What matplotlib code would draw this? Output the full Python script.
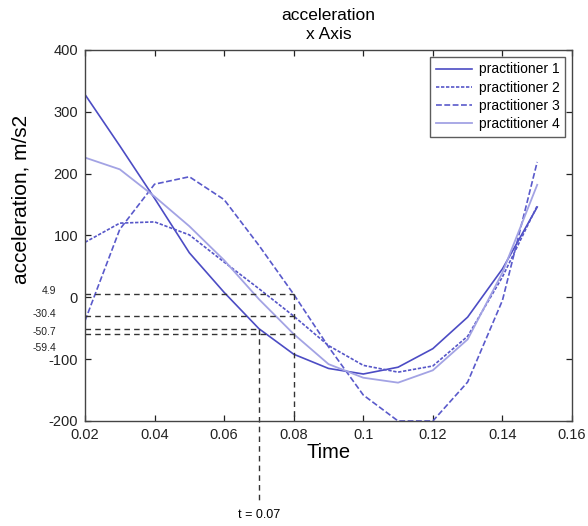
import matplotlib
matplotlib.use("Agg")
import matplotlib.pyplot as plt

plt.rcParams['font.family'] = ['Liberation Sans', 'DejaVu Sans']
plt.rcParams['axes.unicode_minus'] = False

time = [0.02, 0.03, 0.04, 0.05, 0.06, 0.07, 0.08, 0.09, 0.10, 0.11, 0.12, 0.13, 0.14, 0.15]
practitioner_1 = [328, 245, 160, 72, 8, -50.7, -92, -115, -124, -113, -83, -32, 46, 146]
practitioner_2 = [89, 120, 122, 101, 57, 14, -30.4, -78, -110, -121, -111, -63, 33, 148]
practitioner_3 = [-38, 110, 183, 195, 158, 84, 4.9, -80, -158, -200, -200, -137, -5, 219]
practitioner_4 = [226, 207, 163, 115, 60, -3, -59.4, -108, -130, -138, -118, -68, 40, 182]

labels = ['practitioner 1', 'practitioner 2', 'practitioner 3', 'practitioner 4']
marked_values = [4.9, -30.4, -50.7, -59.4]
marked_times = [0.08, 0.08, 0.07, 0.08]
label_offsets = [3, 2, -3, -14]

x_ticks = [0.02, 0.04, 0.06, 0.08, 0.10, 0.12, 0.14, 0.16]
x_ticklabels = ['0.02', '0.04', '0.06', '0.08', '0.1', '0.12', '0.14', '0.16']
y_ticks = [-200, -100, 0, 100, 200, 300, 400]

fig = plt.figure(figsize=(5.88, 5.26), dpi=100)
ax = fig.add_axes([85/588, 1-421/526, 487/588, 371/526])

c1 = '#4c4cc4'
c2 = '#5656c8'
c3 = '#5a5acb'
c4 = '#a3a3e4'
ax.plot(time, practitioner_1, color=c1, lw=1.2, ls='-', label=labels[0])
ax.plot(time, practitioner_2, color=c2, lw=1.2, ls=(0, (2, 1)), label=labels[1])
ax.plot(time, practitioner_3, color=c3, lw=1.2, ls=(0, (3.5, 1.5)), label=labels[2])
ax.plot(time, practitioner_4, color=c4, lw=1.3, ls='-', label=labels[3])

ymin, ymax = -200, 400
xmin, xmax = 0.02, 0.16
ax.set_xlim(xmin, xmax)
ax.set_ylim(ymin, ymax)

dash = (0, (4, 3))
gc = '#333333'
for v, t in zip(marked_values, marked_times):
    ax.plot([xmin, t], [v, v], color=gc, lw=1.0, ls=dash)
# vertical guides
ax.plot([0.08, 0.08], [marked_values[0], ymin], color=gc, lw=1.0, ls=dash)
yfrac = (marked_values[2] - ymin) / (ymax - ymin)
ax.plot([0.07, 0.07], [yfrac, -0.218], color=gc, lw=1.0, ls=dash,
        transform=ax.get_xaxis_transform(), clip_on=False)
ax.text(0.07, -0.253, 't = 0.07', transform=ax.get_xaxis_transform(),
        ha='center', va='center', fontsize=9)

for v, off in zip(marked_values, label_offsets):
    ax.annotate(f'{v}', xy=(0, v), xycoords=ax.get_yaxis_transform(),
                xytext=(-29, off), textcoords='offset pixels',
                ha='right', va='center', fontsize=7.5, color='#222222',
                annotation_clip=False)

ax.set_xticks(x_ticks)
ax.set_xticklabels(x_ticklabels)
ax.set_yticks(y_ticks)
ax.tick_params(direction='in', length=4, width=0.9, top=True, right=True,
               labelsize=10.5, colors='#222222', pad=5)
for s in ax.spines.values():
    s.set_color('#444444')
    s.set_linewidth(1.0)

ax.set_xlabel('Time', fontsize=14.5, labelpad=1)
ax.set_ylabel('acceleration, m/s2', fontsize=15)
ax.yaxis.set_label_coords(-0.112, 0.596)
ax.set_title('acceleration\nx Axis', fontsize=12.5, pad=8, linespacing=1.35)

leg = ax.legend(loc='upper right', fontsize=10, frameon=True, fancybox=False,
                borderaxespad=0.5, handlelength=2.6, handletextpad=0.5,
                labelspacing=0.3, borderpad=0.4)
leg.get_frame().set_edgecolor('#333333')
leg.get_frame().set_linewidth(1.0)

fig.savefig('out.png', dpi=100)
